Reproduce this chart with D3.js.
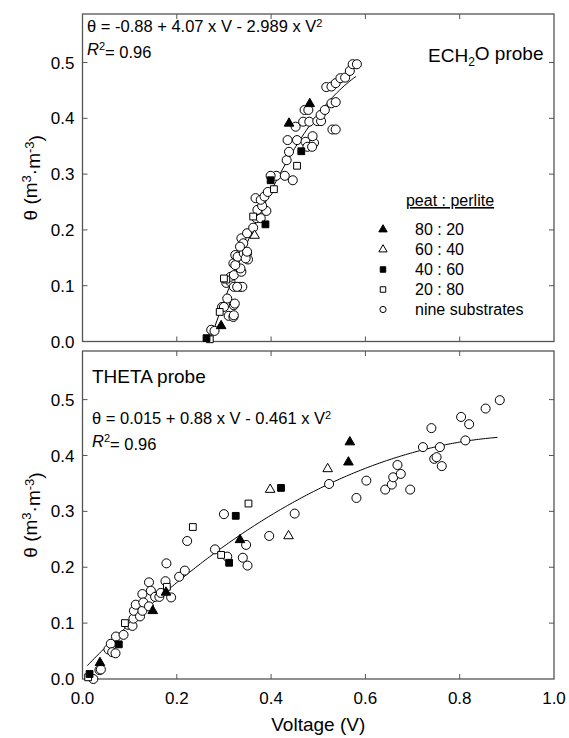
<!DOCTYPE html>
<html>
<head>
<meta charset="utf-8">
<script src="https://cdn.jsdelivr.net/npm/d3@7"></script>
<style>
  body { margin: 0; background: #fff; }
  text { font-family: "Liberation Sans", Arial, sans-serif; fill: #000; }
</style>
</head>
<body>
<svg id="chart" width="569" height="738"></svg>
<script>
// ---- data: [voltage (V), theta (m3/m3)] ----
// ECH2O probe (top panel)
var echo8020 = [[0.294, 0.028], [0.438, 0.391], [0.482, 0.426]];
var echo6040 = [[0.365, 0.190]];
var echo4060 = [[0.263, 0.006], [0.388, 0.210], [0.399, 0.289], [0.464, 0.341]];
var echo2080 = [[0.270, 0.004], [0.291, 0.053], [0.305, 0.111], [0.300, 0.113], [0.362, 0.224],
                [0.406, 0.273], [0.455, 0.315]];
var echoNine = [
  [0.273, 0.021], [0.280, 0.019], [0.296, 0.062], [0.300, 0.062], [0.307, 0.077], [0.310, 0.046],
  [0.320, 0.044], [0.321, 0.047], [0.321, 0.065], [0.323, 0.068], [0.305, 0.105], [0.314, 0.107],
  [0.321, 0.098], [0.334, 0.098], [0.339, 0.098], [0.328, 0.098], [0.314, 0.116], [0.321, 0.119],
  [0.337, 0.125], [0.335, 0.131], [0.320, 0.140], [0.324, 0.137], [0.324, 0.155], [0.329, 0.152],
  [0.342, 0.158], [0.349, 0.158], [0.351, 0.147], [0.346, 0.149], [0.349, 0.161], [0.337, 0.185],
  [0.341, 0.176], [0.334, 0.170], [0.349, 0.194], [0.362, 0.204], [0.369, 0.221], [0.378, 0.221],
  [0.371, 0.236], [0.390, 0.234], [0.381, 0.243], [0.367, 0.257], [0.378, 0.254], [0.386, 0.260],
  [0.393, 0.268], [0.411, 0.297], [0.429, 0.297], [0.399, 0.297], [0.446, 0.289], [0.433, 0.325],
  [0.438, 0.340], [0.435, 0.361], [0.455, 0.361], [0.473, 0.358], [0.491, 0.356], [0.477, 0.349],
  [0.487, 0.349], [0.488, 0.368], [0.452, 0.385], [0.468, 0.394], [0.481, 0.394], [0.498, 0.395],
  [0.506, 0.395], [0.505, 0.406], [0.471, 0.415], [0.479, 0.415], [0.514, 0.415], [0.530, 0.380],
  [0.537, 0.380], [0.528, 0.427], [0.537, 0.429], [0.517, 0.456], [0.528, 0.457], [0.537, 0.463],
  [0.547, 0.472], [0.557, 0.473], [0.567, 0.485], [0.573, 0.497], [0.582, 0.497]
];

// THETA probe (bottom panel)
var theta8020 = [[0.037, 0.029], [0.149, 0.122], [0.177, 0.155], [0.334, 0.249], [0.564, 0.388], [0.567, 0.424]];
var theta6040 = [[0.398, 0.339], [0.437, 0.256], [0.520, 0.376]];
var theta4060 = [[0.015, 0.009], [0.077, 0.062], [0.311, 0.208], [0.325, 0.292], [0.421, 0.342]];
var theta2080 = [[0.012, 0.003], [0.090, 0.100], [0.179, 0.165], [0.234, 0.272], [0.294, 0.222], [0.352, 0.314]];
var thetaNine = [
  [0.023, 0.000], [0.036, 0.016], [0.039, 0.017], [0.055, 0.053], [0.060, 0.063], [0.063, 0.048],
  [0.070, 0.046], [0.071, 0.076], [0.087, 0.079], [0.097, 0.097], [0.106, 0.095], [0.108, 0.108],
  [0.109, 0.122], [0.113, 0.133], [0.122, 0.112], [0.127, 0.122], [0.127, 0.152], [0.129, 0.137],
  [0.141, 0.173], [0.141, 0.130], [0.145, 0.158], [0.154, 0.147], [0.163, 0.147], [0.166, 0.154],
  [0.176, 0.175], [0.178, 0.207], [0.188, 0.146], [0.205, 0.183], [0.217, 0.194], [0.222, 0.247],
  [0.281, 0.232], [0.300, 0.295], [0.307, 0.219], [0.340, 0.217], [0.347, 0.240], [0.350, 0.203],
  [0.396, 0.256], [0.450, 0.296], [0.523, 0.349], [0.581, 0.324], [0.602, 0.355], [0.642, 0.339],
  [0.656, 0.348], [0.659, 0.361], [0.668, 0.383], [0.675, 0.367], [0.695, 0.339], [0.722, 0.415],
  [0.746, 0.394], [0.751, 0.397], [0.758, 0.415], [0.762, 0.381], [0.812, 0.427], [0.740, 0.449],
  [0.803, 0.469], [0.820, 0.456], [0.855, 0.484], [0.885, 0.499]
];

// regression coefficients [a, b, c]: theta = a + b*V + c*V^2 and fitted V range
var echoFit = [-0.88, 4.07, -2.989];
var echoRange = [0.27, 0.58];
var thetaFit = [0.015, 0.88, -0.461];
var thetaRange = [0.01, 0.88];

var xTicks = [0, 0.2, 0.4, 0.6, 0.8, 1.0];
var yTicks = [0, 0.1, 0.2, 0.3, 0.4, 0.5];
var legendLabels = ["80 : 20", "60 : 40", "40 : 60", "20 : 80", "nine substrates"];

// ---- layout ----
var svg = d3.select("#chart");
var left = 82.5, right = 554;
var frameColor = "#555";

var x = d3.scaleLinear().domain([0, 1]).range([left, right]);

var symCircle = d3.symbol().type(d3.symbolCircle).size(64);
var symSquare = d3.symbol().type(d3.symbolSquare).size(46);
var symTriangle = d3.symbol().type(d3.symbolTriangle).size(40);

var styles = [
  { sym: symTriangle, fill: "#000" },
  { sym: symTriangle, fill: "#fff" },
  { sym: symSquare, fill: "#000" },
  { sym: symSquare, fill: "#fff" },
  { sym: symCircle, fill: "#fff" }
];

function drawPanel(top, bottom, groups, fit, range, showXLabels) {
  var y = d3.scaleLinear().domain([0, 0.587]).range([bottom, top]);
  var g = svg.append("g");

  // frame
  g.append("rect")
    .attr("x", left).attr("y", top)
    .attr("width", right - left).attr("height", bottom - top)
    .attr("fill", "none").attr("stroke", frameColor).attr("stroke-width", 1.3);

  // ticks (inside, all four sides)
  var innerX = xTicks.filter(function (d) { return d > 0 && d < 1; });
  var innerY = yTicks.filter(function (d) { return d > 0; });
  innerX.forEach(function (d) {
    g.append("line").attr("x1", x(d)).attr("x2", x(d)).attr("y1", bottom).attr("y2", bottom - 5)
      .attr("stroke", frameColor);
    g.append("line").attr("x1", x(d)).attr("x2", x(d)).attr("y1", top).attr("y2", top + 5)
      .attr("stroke", frameColor);
  });
  innerY.forEach(function (d) {
    g.append("line").attr("x1", left).attr("x2", left + 5).attr("y1", y(d)).attr("y2", y(d))
      .attr("stroke", frameColor);
    g.append("line").attr("x1", right).attr("x2", right - 5).attr("y1", y(d)).attr("y2", y(d))
      .attr("stroke", frameColor);
  });

  // y tick labels
  g.selectAll("text.ytick")
    .data(yTicks)
    .enter().append("text")
    .attr("class", "ytick")
    .attr("x", left - 8)
    .attr("y", function (d) { return y(d); })
    .attr("dy", "0.36em")
    .attr("text-anchor", "end")
    .style("font-size", "17px")
    .text(function (d) { return d3.format(".1f")(d); });

  if (showXLabels) {
    g.selectAll("text.xtick")
      .data(xTicks)
      .enter().append("text")
      .attr("class", "xtick")
      .attr("x", function (d) { return x(d); })
      .attr("y", bottom + 25)
      .attr("text-anchor", "middle")
      .style("font-size", "17px")
      .text(function (d) { return d3.format(".1f")(d); });
  }

  // fitted curve
  var curve = d3.range(range[0], range[1] + 1e-9, 0.005).map(function (v) {
    return [v, fit[0] + fit[1] * v + fit[2] * v * v];
  });
  g.append("path")
    .datum(curve)
    .attr("fill", "none")
    .attr("stroke", "#000")
    .attr("stroke-width", 1)
    .attr("d", d3.line().x(function (d) { return x(d[0]); }).y(function (d) { return y(d[1]); }));

  // points: circles first, then the peat:perlite mixes on top
  var order = [4, 3, 2, 1, 0];
  order.forEach(function (i) {
    g.selectAll(null)
      .data(groups[i])
      .enter().append("path")
      .attr("transform", function (d) { return "translate(" + x(d[0]) + "," + y(d[1]) + ")"; })
      .attr("d", styles[i].sym)
      .attr("fill", styles[i].fill)
      .attr("stroke", "#000")
      .attr("stroke-width", 1);
  });

  // y axis title
  var yt = svg.append("text")
    .attr("transform", "translate(37," + ((top + bottom) / 2) + ") rotate(-90)")
    .attr("text-anchor", "middle")
    .style("font-size", "19px");
  yt.append("tspan").text("\u03b8 (m");
  yt.append("tspan").attr("dy", "-0.45em").style("font-size", "13px").text("3");
  yt.append("tspan").attr("dy", "0.45em").text("\u00b7m");
  yt.append("tspan").attr("dy", "-0.45em").style("font-size", "13px").text("-3");
  yt.append("tspan").attr("dy", "0.45em").text(")");

  return y;
}

function equation(xp, yp, a, b, c) {
  var t = svg.append("text").attr("x", xp).attr("y", yp).style("font-size", "16.5px");
  t.append("tspan").text("\u03b8 = " + a + " + " + b + " x V - " + c + " x V");
  t.append("tspan").attr("dy", "-0.5em").style("font-size", "11px").text("2");
  var r = svg.append("text").attr("x", xp).attr("y", yp + 23).style("font-size", "16.5px");
  r.append("tspan").style("font-style", "italic").text("R");
  r.append("tspan").attr("dy", "-0.5em").style("font-size", "11px").text("2");
  r.append("tspan").attr("dy", "0.5em").text("= 0.96");
}

// top panel: ECH2O
drawPanel(14, 341.5, [echo8020, echo6040, echo4060, echo2080, echoNine], echoFit, echoRange, false);
equation(87, 32, "-0.88", "4.07", "2.989");
var ech = svg.append("text").attr("x", 428).attr("y", 62).style("font-size", "19px");
ech.append("tspan").text("ECH");
ech.append("tspan").attr("dy", "0.35em").style("font-size", "12px").text("2");
ech.append("tspan").attr("dy", "-0.35em").text("O probe");

// legend
var legX = 383, legText = 415;
svg.append("text").attr("x", 450).attr("y", 206).attr("text-anchor", "middle")
  .style("font-size", "16px").style("text-decoration", "underline").text("peat : perlite");
legendLabels.forEach(function (lab, i) {
  var ly = 229.5 + i * 20;
  svg.append("path")
    .attr("transform", "translate(" + legX + "," + ly + ")")
    .attr("d", d3.symbol().type(i < 2 ? d3.symbolTriangle : (i < 4 ? d3.symbolSquare : d3.symbolCircle)).size(30))
    .attr("fill", styles[i].fill)
    .attr("stroke", "#000");
  svg.append("text").attr("x", legText).attr("y", ly).attr("dy", "0.36em")
    .style("font-size", "16px").text(lab);
});

// bottom panel: THETA
drawPanel(351, 679, [theta8020, theta6040, theta4060, theta2080, thetaNine], thetaFit, thetaRange, true);
svg.append("text").attr("x", 92).attr("y", 383).style("font-size", "19px").text("THETA probe");
equation(92, 424, "0.015", "0.88", "0.461");

// x axis title
svg.append("text").attr("x", (left + right) / 2).attr("y", 731).attr("text-anchor", "middle")
  .style("font-size", "19px").text("Voltage (V)");
</script>
</body>
</html>
